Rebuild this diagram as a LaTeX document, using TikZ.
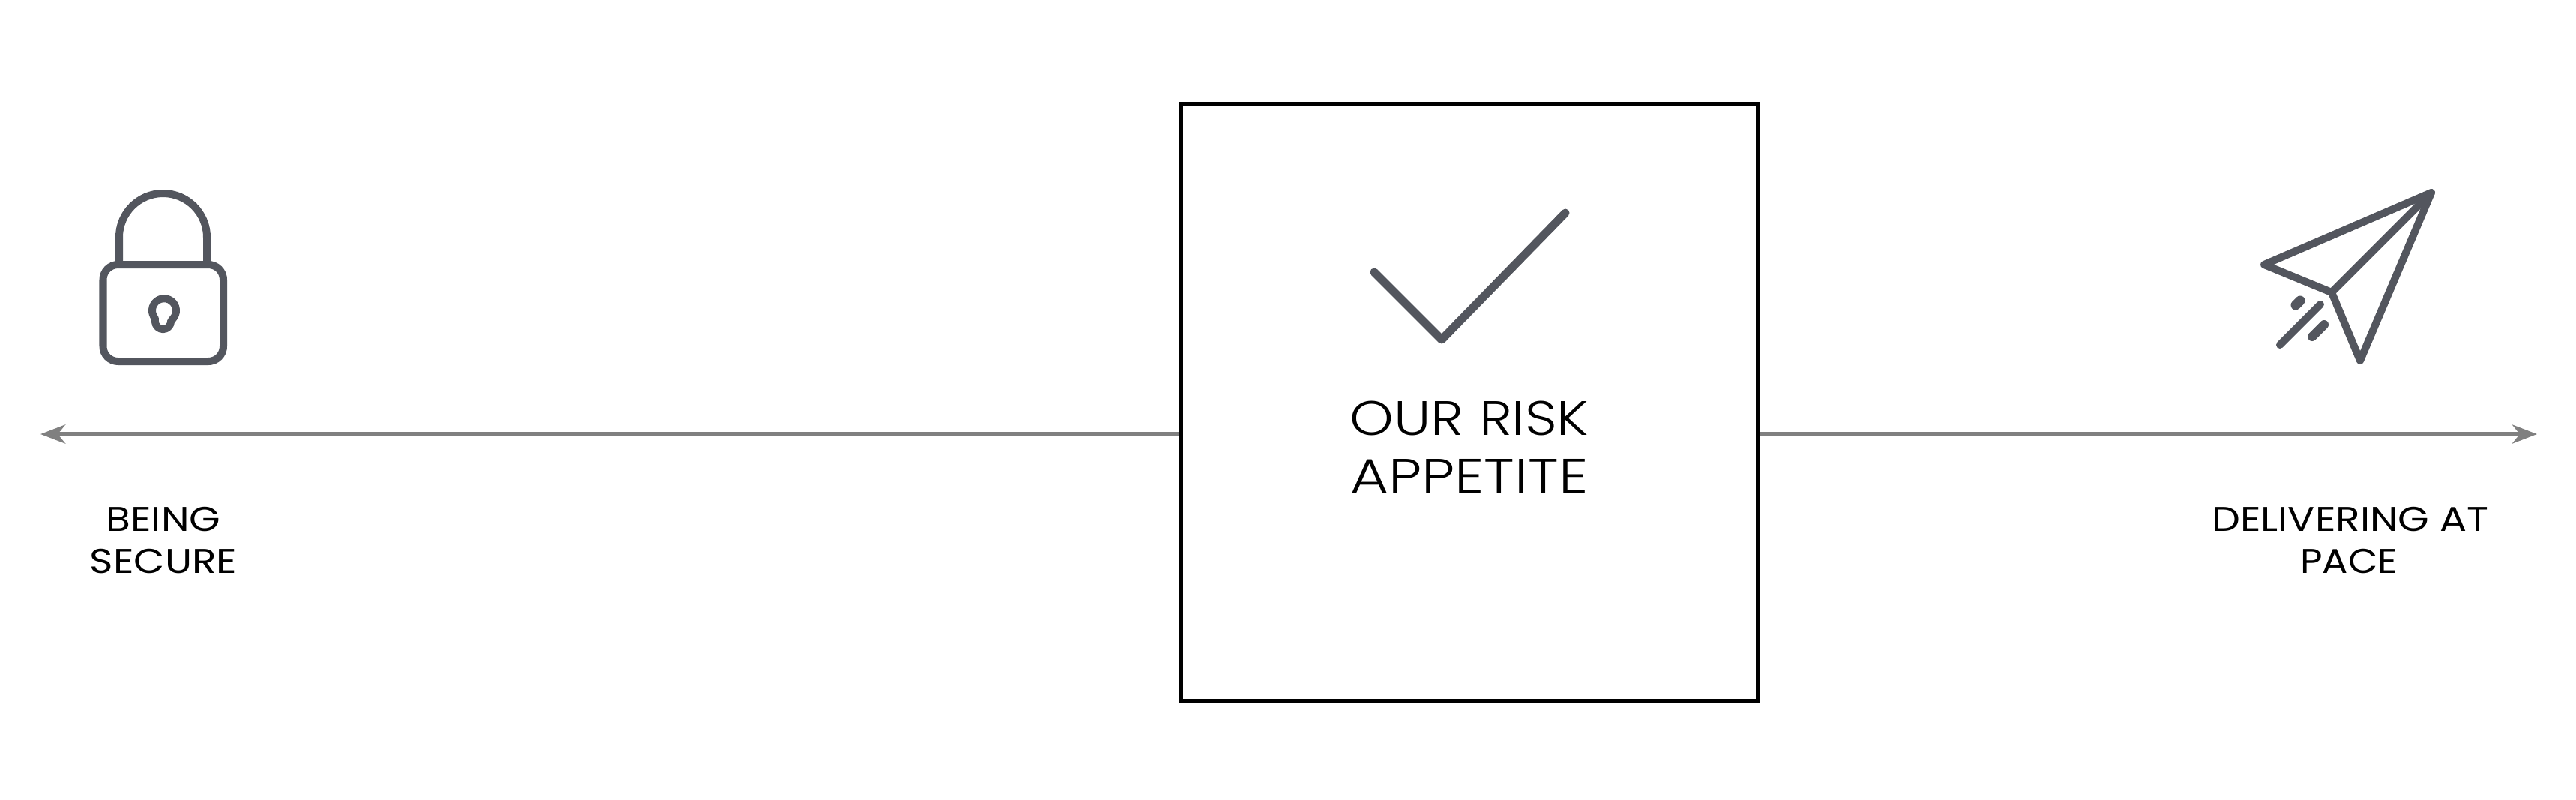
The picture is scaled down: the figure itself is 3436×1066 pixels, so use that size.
\documentclass[tikz,border=0pt]{standalone}
\usepackage{fontspec}
\newfontfamily\titlea[FakeStretch=1.16]{Poppins Light}
\newfontfamily\titleb[FakeStretch=1.215]{Poppins Light}
\newfontfamily\labela[FakeStretch=1.17]{Poppins}
\newfontfamily\labelb[FakeStretch=1.115]{Poppins}
\setmainfont{Poppins}
\usetikzlibrary{arrows.meta}
\definecolor{icon}{HTML}{53565E}
\definecolor{axis}{HTML}{808080}
\tikzset{
  x=0.01cm,y=-0.01cm,
  iconline/.style={draw=icon,line width=0.1cm,line cap=round,line join=round},
  axisline/.style={draw=axis,line width=0.06cm,-{Stealth[length=0.33cm,width=0.25cm,inset=0.1cm]}},
  bigtext/.style={font=\fontsize{18.3pt}{21.8pt}\selectfont,align=center,inner sep=0pt,text=black},
  smalltext/.style={font=\fontsize{13pt}{16.4pt}\selectfont,align=center,inner sep=0pt,text=black},
}
\begin{document}
\begin{tikzpicture}
\useasboundingbox (0,0) rectangle (3436,1066);
\node[draw=black,line width=0.06cm,minimum width=7.7cm,minimum height=7.96cm,inner sep=0pt] (box) at (1960,537) {};
\coordinate (lefttip) at (54,579);
\coordinate (righttip) at (3384,579);
\coordinate (boxleft) at (box.west |- lefttip);
\coordinate (boxright) at (box.east |- righttip);
\draw[axisline] (boxleft) -- (lefttip);
\draw[axisline] (boxright) -- (righttip);
% check
\draw[iconline,line width=0.11cm] (1833,363) -- (1923,453) -- (2088,284);
\node[bigtext,anchor=base] (title) at (1960,580) {\titlea OUR RISK};
\node[bigtext,anchor=base] (title2) at (1960,657) {\titleb APPETITE};
% lock
\draw[iconline,rounded corners=0.2cm] (137.5,353) rectangle (298,482);
\draw[iconline,line cap=butt] (159,350) -- (159,316.5) arc[start angle=180,end angle=0,x radius=58.5,y radius=-58.5] -- (276,350);
\draw[iconline] (206.9,424.7) arc[start angle=221,end angle=-41,x radius=16,y radius=-16] -- (228.1,428.5) arc[start angle=0,end angle=-180,x radius=10.6,y radius=-10.6] -- cycle;
% plane
\draw[iconline] (3243,257) -- (3020,353) -- (3110,390) -- (3148,481) -- cycle;
\draw[iconline] (3110,390) -- (3243,257);
\draw[iconline] (3095,406) -- (3041,460);
\draw[iconline,line width=0.13cm] (3068,401) -- (3062,407);
\draw[iconline,line width=0.12cm] (3100,433) -- (3084,449);
\node[smalltext,anchor=base] (l1) at (218,708) {\labela BEING};
\node[smalltext,anchor=base] (l2) at (218,764) {\labela SECURE};
\node[smalltext,anchor=base] (r1) at (3135,708) {\labela DELIVERING AT};
\node[smalltext,anchor=base] (r2) at (3133,764) {\labelb PACE};
\end{tikzpicture}
\end{document}
